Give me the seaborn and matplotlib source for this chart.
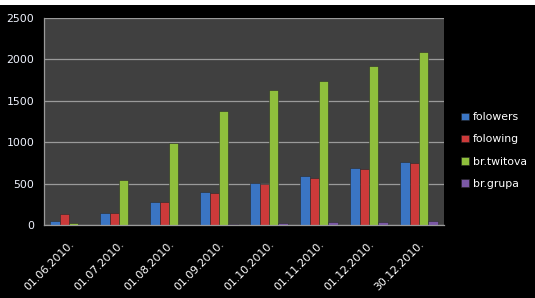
import matplotlib
matplotlib.use("Agg")
import matplotlib.pyplot as plt
import seaborn as sns
import pandas as pd
from matplotlib.patches import Rectangle

dates = ["01.06.2010.", "01.07.2010.", "01.08.2010.", "01.09.2010.",
         "01.10.2010.", "01.11.2010.", "01.12.2010.", "30.12.2010."]
folowers = [48, 150, 275, 395, 503, 588, 685, 765]
folowing = [130, 150, 275, 383, 490, 572, 680, 745]
br_twitova = [30, 540, 995, 1377, 1630, 1735, 1915, 2085]
br_grupa = [0, 0, 3, 12, 24, 32, 40, 45]
series = ["folowers", "folowing", "br.twitova", "br.grupa"]
colors = ["#3a75c4", "#cc3a3a", "#8fbf3c", "#7b58a6"]

rows = []
for name, vals in zip(series, [folowers, folowing, br_twitova, br_grupa]):
    for d, v in zip(dates, vals):
        rows.append({"date": d, "series": name, "value": v})
df = pd.DataFrame(rows)

sns.set_style("dark")
fig = plt.figure(figsize=(5.35, 2.98), dpi=100, facecolor="black")
ax = fig.add_axes([44/535, 1-225/298, 400/535, 207/298])
ax.set_facecolor("#404040")

sns.barplot(data=df, x="date", y="value", hue="series", palette=colors,
            hue_order=series, order=dates, ax=ax, width=0.75, saturation=1,
            edgecolor="#2a2a2a", linewidth=0.4, legend=False)

ax.set_ylim(0, 2500)
ax.set_yticks([0, 500, 1000, 1500, 2000, 2500])
ax.yaxis.grid(True, color="#9a9a9a", linewidth=0.9)
ax.xaxis.grid(False)
ax.set_axisbelow(True)
ax.set_xlabel("")
ax.set_ylabel("")
ax.tick_params(axis="both", length=0, colors="white", labelsize=7.8)
ax.tick_params(axis="y", pad=7)
ax.tick_params(axis="x", pad=10)
for lbl in ax.get_xticklabels():
    lbl.set_rotation(45)
    lbl.set_ha("right")
    lbl.set_rotation_mode("anchor")
    lbl.set_color("white")
for lbl in ax.get_yticklabels():
    lbl.set_color("#f0f4ff")
for s in ["top", "right"]:
    ax.spines[s].set_visible(False)
for s in ["left", "bottom"]:
    ax.spines[s].set_visible(True)
    ax.spines[s].set_color("#9a9a9a")
    ax.spines[s].set_linewidth(0.9)

handles = [Rectangle((0, 0), 1, 1, facecolor=c, edgecolor="#222222", linewidth=0.4) for c in colors]
leg = ax.legend(handles, series, loc="center left", bbox_to_anchor=(1.018, 0.36),
                frameon=False, labelcolor="white", fontsize=7.8,
                handlelength=0.7, handleheight=0.7, handletextpad=0.4,
                labelspacing=1.12)

fig.patches.append(Rectangle((0, 1-5/298), 1, 5/298, transform=fig.transFigure,
                             facecolor="white", edgecolor="none", zorder=-1))

fig.savefig("out.png", dpi=100, facecolor="black")
